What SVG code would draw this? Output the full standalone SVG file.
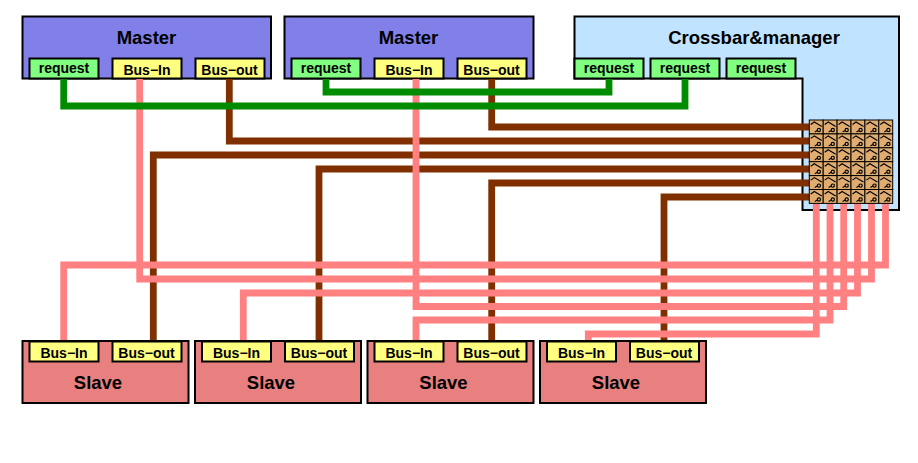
<svg xmlns="http://www.w3.org/2000/svg" xmlns:xlink="http://www.w3.org/1999/xlink" width="918" height="463" viewBox="0 0 918 463">
<style>
text{font-family:"Liberation Sans",Arial,sans-serif;font-weight:bold;fill:#000;text-anchor:middle}
.t{font-size:18.5px}.p{font-size:14px}
.box{stroke:#000;stroke-width:2}
.m{fill:#8080e8}.s{fill:#e88080}.c{fill:#c0e4ff}.y{fill:#ffff80}.g{fill:#80ff80}
.w{fill:none;stroke-width:6.8;stroke-linejoin:miter}
.gr{stroke:#008c00}.pk{stroke:#ff8080}.br{stroke:#803000}
.cell{fill:#e0ac70;stroke:#000;stroke-width:1}
.sw{fill:none;stroke:#000;stroke-width:1.15}
</style>
<defs>
<g id="cell">
<rect class="cell" width="13.9" height="13.9"/>
<path class="sw" d="M1.5,4.5 L5,2 L12.5,6.500 M5.500,12 L8,10.5"/>
<circle class="sw" cx="9.6" cy="10" r="1.6"/>
</g>
</defs>
<g id="master1">
<rect class="box m" x="22.5" y="16.5" width="248.5" height="62"/>
<text class="t" x="146.500" y="44">Master</text>
<rect class="box g" x="29.500" y="58.500" width="69" height="20"/><text class="p" x="64" y="73">request</text>
<rect class="box y" x="112.500" y="58.500" width="69" height="20"/><text class="p" x="147" y="75">Bus−In</text>
<rect class="box y" x="195.500" y="58.500" width="69" height="20"/><text class="p" x="229.500" y="75">Bus−out</text>
</g>
<g id="master2">
<rect class="box m" x="284.500" y="16.500" width="249" height="62"/>
<text class="t" x="408.500" y="44">Master</text>
<rect class="box g" x="291.500" y="58.500" width="69" height="20"/><text class="p" x="326" y="73">request</text>
<rect class="box y" x="374.500" y="58.500" width="69" height="20"/><text class="p" x="409" y="75">Bus−In</text>
<rect class="box y" x="457.500" y="58.500" width="69" height="20"/><text class="p" x="491.500" y="75">Bus−out</text>
</g>
<g id="crossbar">
<path class="box c" d="M574.500,78.500 V16.500 H899 V210 H802.500 V78.500 Z"/>
<text class="t" x="754" y="44">Crossbar&amp;manager</text>
<rect class="box g" x="574.500" y="58.500" width="69" height="20"/><text class="p" x="609" y="73">request</text>
<rect class="box g" x="650.500" y="58.500" width="69" height="20"/><text class="p" x="685" y="73">request</text>
<rect class="box g" x="726.500" y="58.500" width="69" height="20"/><text class="p" x="761" y="73">request</text>
</g>
<g id="slave1">
<rect class="box s" x="22.500" y="341" width="166" height="62"/>
<text class="t" x="98" y="389">Slave</text>
<rect class="box y" x="29.500" y="341.500" width="69" height="20"/><text class="p" x="64" y="358">Bus−In</text>
<rect class="box y" x="112.500" y="341.500" width="69" height="20"/><text class="p" x="146.500" y="358">Bus−out</text>
</g>
<g id="slave2">
<rect class="box s" x="195" y="341" width="166" height="62"/>
<text class="t" x="271" y="389">Slave</text>
<rect class="box y" x="202" y="341.500" width="69" height="20"/><text class="p" x="236.500" y="358">Bus−In</text>
<rect class="box y" x="285" y="341.500" width="69" height="20"/><text class="p" x="319" y="358">Bus−out</text>
</g>
<g id="slave3">
<rect class="box s" x="367.500" y="341" width="166" height="62"/>
<text class="t" x="443.500" y="389">Slave</text>
<rect class="box y" x="374.500" y="341.500" width="69" height="20"/><text class="p" x="409" y="358">Bus−In</text>
<rect class="box y" x="457.500" y="341.500" width="69" height="20"/><text class="p" x="491.500" y="358">Bus−out</text>
</g>
<g id="slave4">
<rect class="box s" x="540" y="341" width="166" height="62"/>
<text class="t" x="616" y="389">Slave</text>
<rect class="box y" x="547" y="341.500" width="69" height="20"/><text class="p" x="581.500" y="358">Bus−In</text>
<rect class="box y" x="630" y="341.500" width="69" height="20"/><text class="p" x="664" y="358">Bus−out</text>
</g>
<g id="connectors">
<path class="w br" d="M229.300,79 V141 H809"/>
<path class="w br" d="M491.700,79 V127 H809"/>
<path class="w br" d="M153.300,340 V155 H809"/>
<path class="w br" d="M319,340 V169 H809"/>
<path class="w br" d="M491.700,340 V183 H809"/>
<path class="w br" d="M664,340 V197 H809"/>
<path class="w pk" d="M63.700,340 V265 H885.500 V203"/>
<path class="w pk" d="M139.700,79 V279 H871.500 V203"/>
<path class="w pk" d="M243.300,340 V293 H857.500 V203"/>
<path class="w pk" d="M416,79 V306.500 H843.700 V203"/>
<path class="w pk" d="M416,340 V320 H830 V203"/>
<path class="w pk" d="M588.300,340 V334 H816.300 V203"/>
<path class="w gr" d="M63.700,79 V106 H685 V79"/>
<path class="w gr" d="M326,79 V92 H609 V79"/>
</g>
<g id="switch-matrix" transform="translate(809.300,120)">
<use xlink:href="#cell" x="0" y="0"/><use xlink:href="#cell" x="13.900" y="0"/><use xlink:href="#cell" x="27.800" y="0"/><use xlink:href="#cell" x="41.700" y="0"/><use xlink:href="#cell" x="55.600" y="0"/><use xlink:href="#cell" x="69.500" y="0"/>
<use xlink:href="#cell" x="0" y="13.900"/><use xlink:href="#cell" x="13.900" y="13.900"/><use xlink:href="#cell" x="27.800" y="13.900"/><use xlink:href="#cell" x="41.700" y="13.900"/><use xlink:href="#cell" x="55.600" y="13.900"/><use xlink:href="#cell" x="69.500" y="13.900"/>
<use xlink:href="#cell" x="0" y="27.800"/><use xlink:href="#cell" x="13.900" y="27.800"/><use xlink:href="#cell" x="27.800" y="27.800"/><use xlink:href="#cell" x="41.700" y="27.800"/><use xlink:href="#cell" x="55.600" y="27.800"/><use xlink:href="#cell" x="69.500" y="27.800"/>
<use xlink:href="#cell" x="0" y="41.700"/><use xlink:href="#cell" x="13.900" y="41.700"/><use xlink:href="#cell" x="27.800" y="41.700"/><use xlink:href="#cell" x="41.700" y="41.700"/><use xlink:href="#cell" x="55.600" y="41.700"/><use xlink:href="#cell" x="69.500" y="41.700"/>
<use xlink:href="#cell" x="0" y="55.600"/><use xlink:href="#cell" x="13.900" y="55.600"/><use xlink:href="#cell" x="27.800" y="55.600"/><use xlink:href="#cell" x="41.700" y="55.600"/><use xlink:href="#cell" x="55.600" y="55.600"/><use xlink:href="#cell" x="69.500" y="55.600"/>
<use xlink:href="#cell" x="0" y="69.500"/><use xlink:href="#cell" x="13.900" y="69.500"/><use xlink:href="#cell" x="27.800" y="69.500"/><use xlink:href="#cell" x="41.700" y="69.500"/><use xlink:href="#cell" x="55.600" y="69.500"/><use xlink:href="#cell" x="69.500" y="69.500"/>
</g>
</svg>
